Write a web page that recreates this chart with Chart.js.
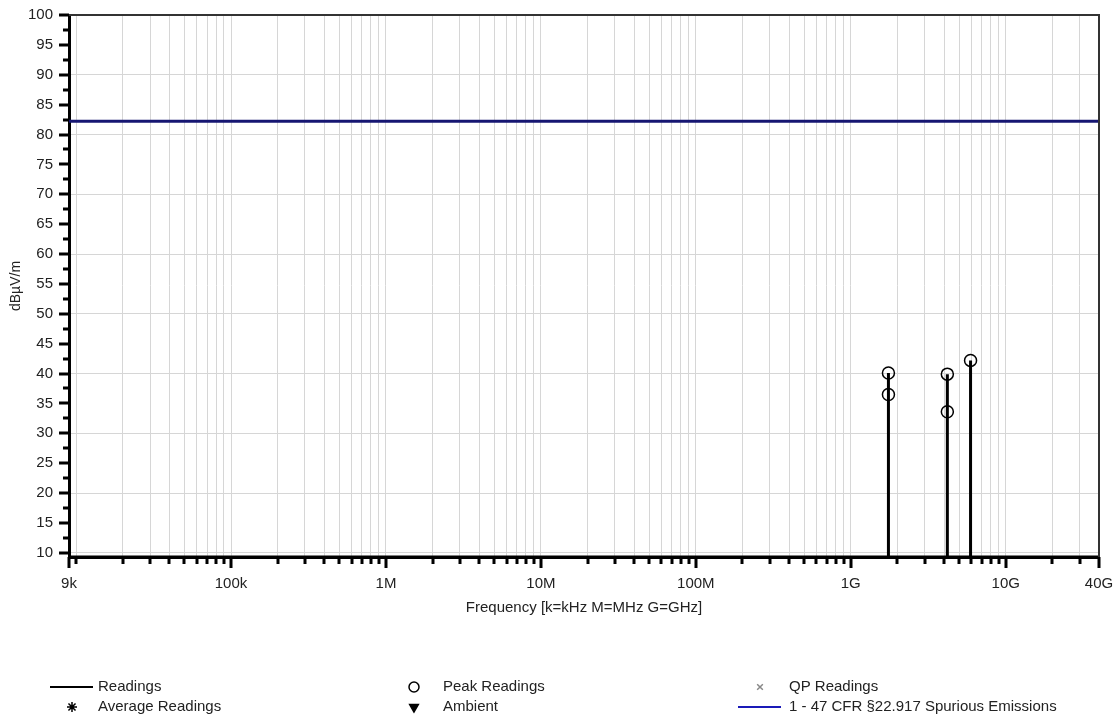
<!DOCTYPE html>
<html lang="en">
<head>
    <meta charset="UTF-8">
    <title>Spurious Emissions</title>
    <style>
        body { margin: 0; background: #fff; font-family: "Liberation Sans", Arial, sans-serif; }
        #chart-container { width: 1117px; height: 717px; position: relative; }
    </style>
    <script src="https://cdn.jsdelivr.net/npm/chart.js"></script>
</head>
<body>
    <div id="chart-container">
        <canvas id="emiChart"></canvas>
    </div>

    <script>
        // Data
        const stemFreqs = [1.75e9, 4.2e9, 5.93e9];
        const stemLevels = [40.1, 39.9, 42.2];
        const peakFreqs = [1.75e9, 1.75e9, 4.2e9, 4.2e9, 5.93e9];
        const peakLevels = [40.1, 36.5, 39.9, 33.6, 42.2];
        const floorLevel = 9.3;
        const limitLevel = 82.2;
        const freqMin = 9e3;
        const freqMax = 4e10;

        // Tick labels
        const xLabelValues = [9e3, 1e5, 1e6, 1e7, 1e8, 1e9, 1e10, 4e10];
        const xLabelTexts = ['9k', '100k', '1M', '10M', '100M', '1G', '10G', '40G'];
        const yMin = 9.3;
        const yMax = 100;

        const FONT = '"Liberation Sans", Arial, sans-serif';

        // readings trace: floor with a stem at each measured frequency
        const readingsData = [{ x: freqMin, y: floorLevel }];
        stemFreqs.forEach((f, i) => {
            readingsData.push({ x: f, y: floorLevel });
            readingsData.push({ x: f, y: stemLevels[i] });
            readingsData.push({ x: f, y: floorLevel });
        });
        readingsData.push({ x: freqMax, y: floorLevel });

        const peakData = peakFreqs.map((f, i) => ({ x: f, y: peakLevels[i] }));
        const limitData = [{ x: freqMin, y: limitLevel }, { x: freqMax, y: limitLevel }];

        // x tick positions: 9k, then 1..9 x each decade, then 20G, 30G, 40G
        const xTickValues = [9e3];
        for (let e = 4; e <= 10; e++) {
            for (let m = 1; m <= 9; m++) {
                const v = m * Math.pow(10, e);
                if (v <= freqMax) xTickValues.push(v);
            }
        }
        const yTickValues = [];
        for (let v = 10; v <= 100; v += 2.5) yTickValues.push(v);

        function xLabelFor(v) {
            const i = xLabelValues.findIndex(l => Math.abs(Math.log10(l) - Math.log10(v)) < 1e-6);
            return i >= 0 ? xLabelTexts[i] : '';
        }

        // top/right frame and custom tick marks
        const framePlugin = {
            id: 'frame',
            afterDraw(chart) {
                const { ctx, chartArea: a } = chart;
                const xs = chart.scales.x, ys = chart.scales.y;
                ctx.save();
                ctx.strokeStyle = '#333';
                ctx.lineWidth = 2;
                ctx.beginPath();
                ctx.moveTo(a.left, a.top);
                ctx.lineTo(a.right, a.top);
                ctx.lineTo(a.right, a.bottom);
                ctx.stroke();

                ctx.strokeStyle = '#000';
                ctx.lineWidth = 3;
                ctx.beginPath();
                xTickValues.forEach(v => {
                    const px = Math.round(xs.getPixelForValue(v));
                    const len = xLabelFor(v) ? 11 : 7;
                    ctx.moveTo(px, a.bottom);
                    ctx.lineTo(px, a.bottom + len);
                });
                yTickValues.forEach(v => {
                    const py = Math.round(ys.getPixelForValue(v));
                    const len = v % 5 === 0 ? 10 : 6;
                    ctx.moveTo(a.left, py);
                    ctx.lineTo(a.left - len, py);
                });
                ctx.stroke();
                ctx.restore();
            }
        };

        // legend laid out in three columns under the plot
        const legendPlugin = {
            id: 'bottomLegend',
            afterDraw(chart) {
                const ctx = chart.ctx;
                const items = [
                    { text: 'Readings', col: 0, row: 0, kind: 'line', color: '#000' },
                    { text: 'Average Readings', col: 0, row: 1, kind: 'point', style: 'star', color: '#000', r: 5 },
                    { text: 'Peak Readings', col: 1, row: 0, kind: 'point', style: 'circle', color: '#000', r: 5 },
                    { text: 'Ambient', col: 1, row: 1, kind: 'point', style: 'triangle', rot: 180, color: '#000', r: 5, fill: true },
                    { text: 'QP Readings', col: 2, row: 0, kind: 'point', style: 'crossRot', color: '#888', r: 4 },
                    { text: '1 - 47 CFR §22.917 Spurious Emissions', col: 2, row: 1, kind: 'line', color: '#1a1ab8' }
                ];
                const colMarker = [72, 414, 760];
                const colText = [98, 443, 789];
                const rowY = [687, 707];
                ctx.save();
                ctx.font = '15px ' + FONT;
                ctx.textBaseline = 'middle';
                ctx.fillStyle = '#222';
                items.forEach(it => {
                    const mx = colMarker[it.col], y = rowY[it.row];
                    if (it.kind === 'line') {
                        ctx.strokeStyle = it.color;
                        ctx.lineWidth = 2;
                        ctx.beginPath();
                        ctx.moveTo(mx - 22, y);
                        ctx.lineTo(mx + 21, y);
                        ctx.stroke();
                    } else {
                        ctx.strokeStyle = it.color;
                        ctx.fillStyle = it.fill ? it.color : 'rgba(0,0,0,0)';
                        ctx.lineWidth = 1.5;
                        Chart.helpers.drawPoint(ctx, {
                            pointStyle: it.style, radius: it.r, rotation: it.rot || 0, borderWidth: 1.5
                        }, mx, y);
                    }
                    ctx.fillStyle = '#222';
                    ctx.fillText(it.text, colText[it.col], y);
                });
                ctx.restore();
            }
        };

        function createChart() {
            const ctx = document.getElementById('emiChart').getContext('2d');
            new Chart(ctx, {
                type: 'line',
                data: {
                    datasets: [
                        {
                            label: '1 - 47 CFR §22.917 Spurious Emissions',
                            data: limitData,
                            borderColor: '#161672',
                            borderWidth: 3,
                            pointRadius: 0,
                            order: 3
                        },
                        {
                            label: 'Readings',
                            data: readingsData,
                            borderColor: '#000',
                            borderWidth: 3,
                            pointRadius: 0,
                            tension: 0,
                            order: 2
                        },
                        {
                            label: 'Peak Readings',
                            type: 'scatter',
                            data: peakData,
                            pointStyle: 'circle',
                            pointRadius: 6,
                            pointBorderWidth: 1.5,
                            borderColor: '#000',
                            backgroundColor: 'rgba(0,0,0,0)',
                            showLine: false,
                            order: 1
                        },
                        { label: 'Average Readings', type: 'scatter', data: [], pointStyle: 'star' },
                        { label: 'Ambient', type: 'scatter', data: [], pointStyle: 'triangle' },
                        { label: 'QP Readings', type: 'scatter', data: [], pointStyle: 'crossRot' }
                    ]
                },
                options: {
                    responsive: true,
                    maintainAspectRatio: false,
                    animation: false,
                    layout: { padding: { top: 15, right: 18, left: 0, bottom: 100 } },
                    plugins: {
                        legend: { display: false },
                        tooltip: { enabled: false }
                    },
                    scales: {
                        x: {
                            type: 'logarithmic',
                            min: freqMin,
                            max: freqMax,
                            afterBuildTicks: s => { s.ticks = xTickValues.map(v => ({ value: v })); },
                            afterFit: s => { s.height = 60; s.paddingLeft = 0; s.paddingRight = 0; },
                            border: { color: '#000', width: 3 },
                            grid: {
                                drawTicks: false,
                                color: '#d6d6d6',
                                lineWidth: 1
                            },
                            ticks: {
                                autoSkip: false,
                                maxRotation: 0,
                                padding: 18,
                                color: '#222',
                                font: { family: FONT, size: 15 },
                                callback: v => xLabelFor(v)
                            },
                            title: {
                                display: true,
                                text: 'Frequency [k=kHz M=MHz G=GHz]',
                                color: '#222',
                                font: { family: FONT, size: 15 },
                                padding: { top: 0, bottom: 0 }
                            }
                        },
                        y: {
                            min: yMin,
                            max: yMax,
                            afterBuildTicks: s => { s.ticks = yTickValues.map(v => ({ value: v })); },
                            afterFit: s => { s.width = 69; s.paddingTop = 0; s.paddingBottom = 0; },
                            border: { color: '#000', width: 3 },
                            grid: {
                                drawTicks: false,
                                color: c => (c.tick && c.tick.value % 10 === 0) ? '#d6d6d6' : 'rgba(0,0,0,0)',
                                lineWidth: 1
                            },
                            ticks: {
                                autoSkip: false,
                                padding: 16,
                                color: '#222',
                                font: { family: FONT, size: 15 },
                                callback: v => (v % 5 === 0 ? String(v) : '')
                            },
                            title: {
                                display: true,
                                text: 'dBµV/m',
                                color: '#222',
                                font: { family: FONT, size: 14 },
                                padding: { top: 8, bottom: 0 }
                            }
                        }
                    }
                },
                plugins: [framePlugin, legendPlugin]
            });
        }

        createChart();
    </script>
</body>
</html>
